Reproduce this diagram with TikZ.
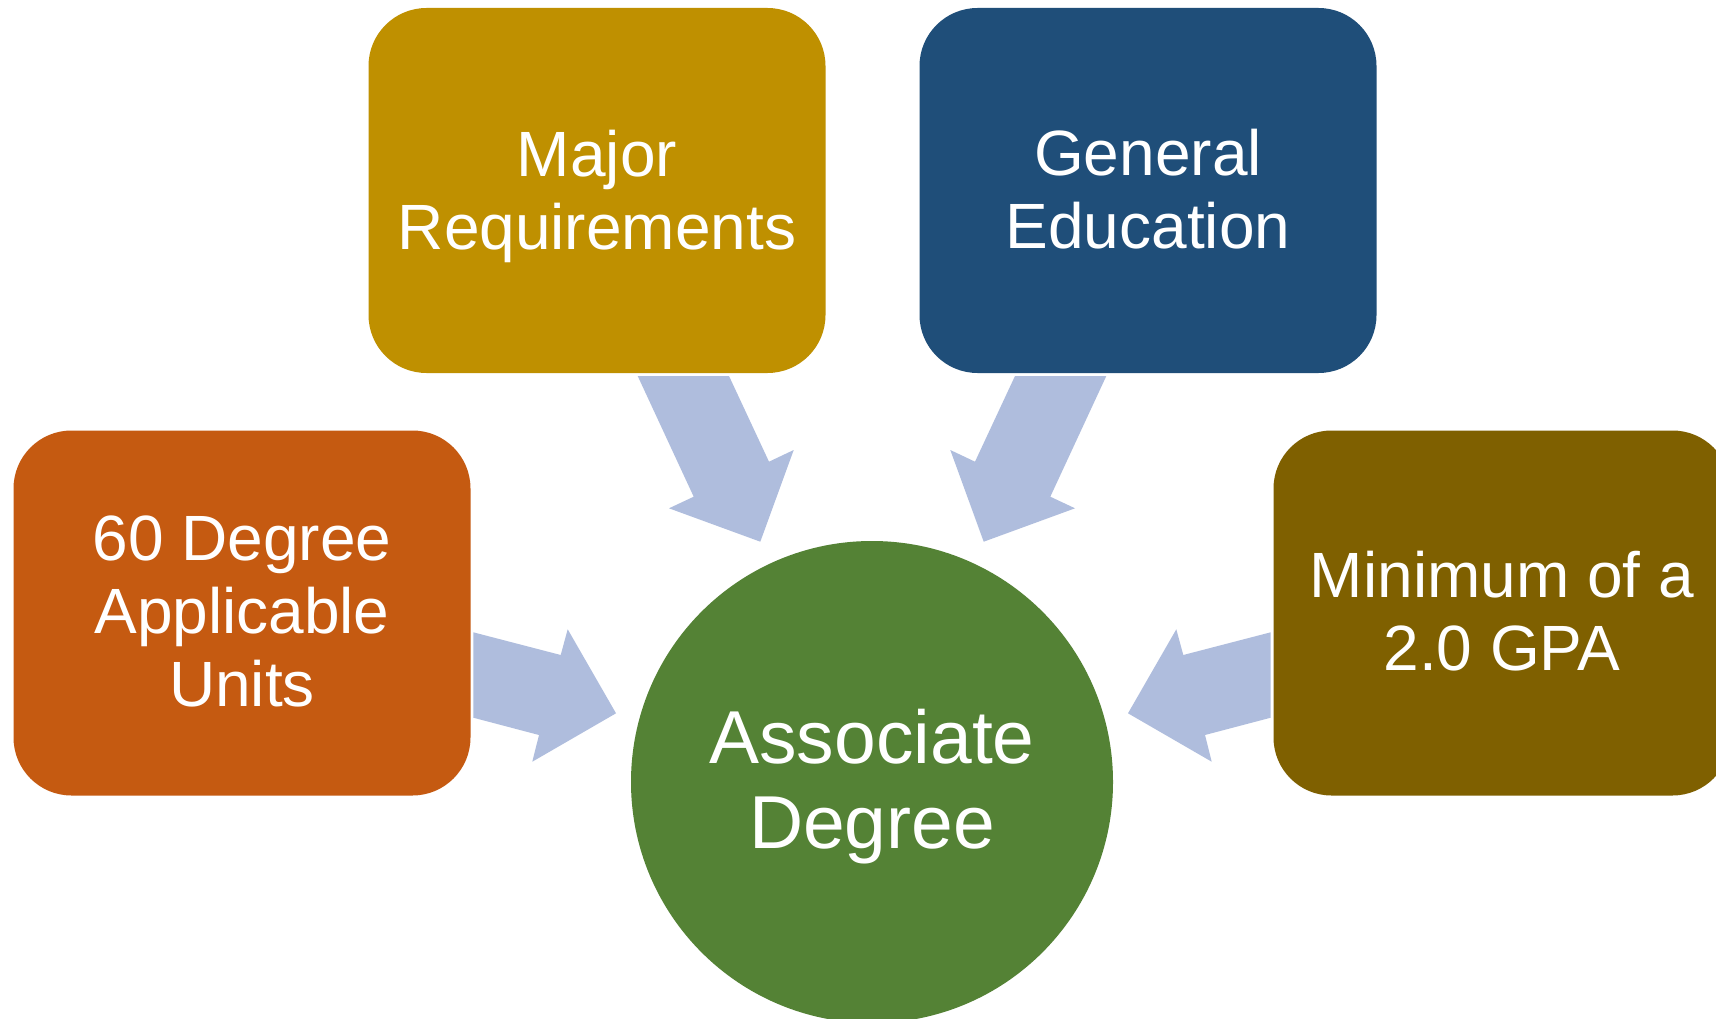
\documentclass[tikz,border=0pt]{standalone}
\usepackage{fontspec}
\setmainfont{Liberation Sans}
\definecolor{cmaj}{RGB}{191,144,0}
\definecolor{cgen}{RGB}{31,78,121}
\definecolor{cdeg}{RGB}{197,90,17}
\definecolor{cgpa}{RGB}{127,96,0}
\definecolor{cassoc}{RGB}{84,130,53}
\definecolor{carrow}{RGB}{175,189,221}
\begin{document}
\begin{tikzpicture}[x=1pt,y=-1pt,
  box/.style={rounded corners=58pt, minimum width=457pt, minimum height=365pt, inner sep=0pt, draw=none},
  lbl/.style={text=white, align=center, inner sep=0pt, font=\fontsize{64}{73}\selectfont},
  biglbl/.style={text=white, align=center, inner sep=0pt, font=\fontsize{75}{85}\selectfont},
  blockarrow/.style={fill=carrow, draw=none}]
\useasboundingbox (0,0) rectangle (1716,1019);
\fill[white] (0,0) rectangle (1716,1019);

% boxes
\node[box, fill=cmaj] (maj) at (597,190.5) {};
\node[box, fill=cgen] (gen) at (1148,190.5) {};
\node[box, fill=cdeg] (deg) at (242,613) {};
\node[box, fill=cgpa] (gpa) at (1502,613) {};
\node[circle, fill=cassoc, minimum size=482pt, inner sep=0pt] (assoc) at (872,782) {};

% labels
\node[lbl] (majt) at (597,196) {Major\\Requirements};
\node[lbl] (gent) at (1148,189) {General\\Education};
\node[lbl] (degt) at (242,611.5) {60 Degree\\Applicable\\Units};
\node[lbl] (gpat) at (1502,611.5) {Minimum of a\\2.0 GPA};
\node[biglbl] (assoct) at (872,787) {Associate\\Degree};

% block arrows
\fill[blockarrow] (637.7,376) -- (729,376) -- (769,461.7) -- (793.7,450) -- (760.3,541.7) -- (669,508.3) -- (693.7,496.7) -- cycle;
\fill[blockarrow] (1106.3,376) -- (1015,376) -- (975,461.7) -- (950.3,450) -- (983.7,541.7) -- (1075,508.3) -- (1050.3,496.7) -- cycle;
\fill[blockarrow] (473.3,632.3) -- (560.7,655) -- (567.7,629.3) -- (616,713.3) -- (532.3,761.7) -- (539,735) -- (473.3,717.7) -- cycle;
\fill[blockarrow] (1270.7,632.3) -- (1183.3,655) -- (1176.3,629.3) -- (1128,713.3) -- (1211.7,761.7) -- (1205,735) -- (1270.7,717.7) -- cycle;
\end{tikzpicture}
\end{document}
